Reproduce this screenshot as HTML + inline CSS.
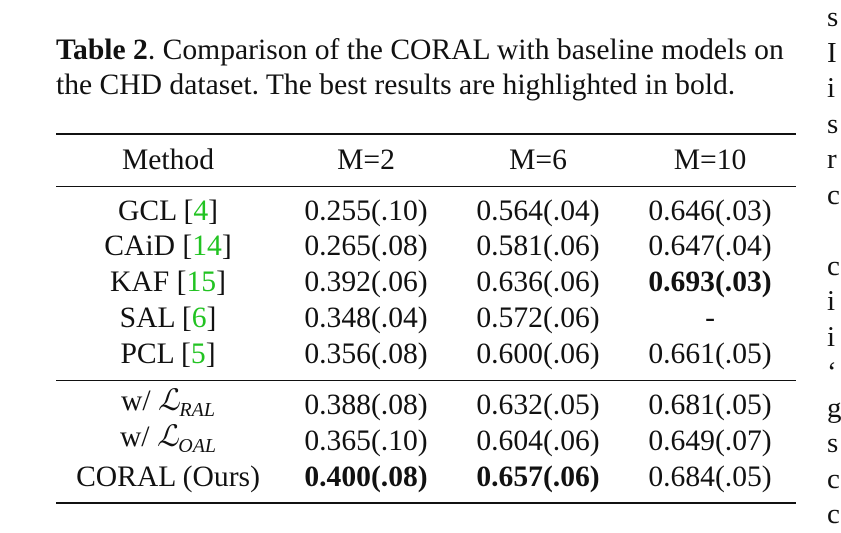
<!DOCTYPE html>
<html><head><meta charset="utf-8"><style>
body{margin:0;width:841px;height:532px;background:#fff;overflow:hidden;font-family:"Liberation Serif",serif;color:#111;position:relative}
.t{position:absolute;font-size:29.6px;line-height:34px;white-space:nowrap}
.c{position:absolute;font-size:29.6px;line-height:34px;white-space:nowrap;transform:translate(-50%,-50%)}
.r{position:absolute;left:56px;width:740px;background:#111}
.g{color:#22c322}
b{font-weight:bold}
i.m{font-family:"DejaVu Serif",serif;font-style:italic}
sub{font-size:20px;font-style:italic;vertical-align:-6px}
</style></head><body>
<div class="t" style="left:56px;top:33px"><b>Table 2</b>. Comparison of the CORAL with baseline models on</div>
<div class="t" style="left:56px;top:68px">the CHD dataset. The best results are highlighted in bold.</div>
<div class="r" style="top:133px;height:2px"></div>
<div class="r" style="top:186px;height:1px"></div>
<div class="r" style="top:380px;height:1px"></div>
<div class="r" style="top:502px;height:2px"></div>
<div id="tbl"></div>
<div class="t" style="left:827px;top:0;font-size:29px;line-height:35.5px">s<br>I<br>i<br>s<br>r<br>c<br><br>c<br>i<br>i<br>‘<br>g<br>s<br>c<br>c</div>
<script>
const cols=[168,366,538,710];
const ys=[160,211,246,282,318,354,405,441,477];
const rows=[
['Method','M=2','M=6','M=10'],
['GCL [<span class="g">4</span>]','0.255(.10)','0.564(.04)','0.646(.03)'],
['CAiD [<span class="g">14</span>]','0.265(.08)','0.581(.06)','0.647(.04)'],
['KAF [<span class="g">15</span>]','0.392(.06)','0.636(.06)','<b>0.693(.03)</b>'],
['SAL [<span class="g">6</span>]','0.348(.04)','0.572(.06)','-'],
['PCL [<span class="g">5</span>]','0.356(.08)','0.600(.06)','0.661(.05)'],
['w/ <i class="m">ℒ</i><sub>RAL</sub>','0.388(.08)','0.632(.05)','0.681(.05)'],
['w/ <i class="m">ℒ</i><sub>OAL</sub>','0.365(.10)','0.604(.06)','0.649(.07)'],
['CORAL (Ours)','<b>0.400(.08)</b>','<b>0.657(.06)</b>','0.684(.05)']];
const t=document.getElementById('tbl');
rows.forEach((r,ri)=>r.forEach((v,ci)=>{
const d=document.createElement('div');d.className='c';


d.style.left=cols[ci]+'px';d.style.top=ys[ri]+'px';d.innerHTML=v;t.appendChild(d);}));
</script>
</body></html>
